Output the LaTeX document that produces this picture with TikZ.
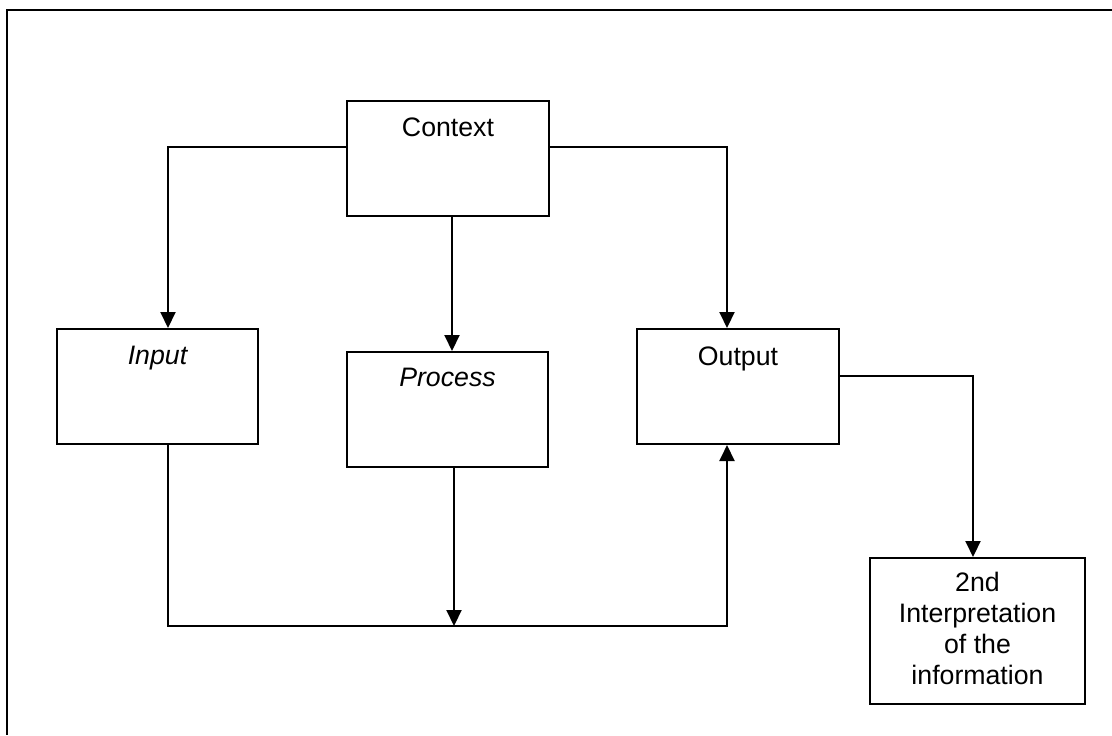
\documentclass[tikz,border=0pt]{standalone}
\usepackage{fontspec}
\setmainfont{Liberation Sans}
\usetikzlibrary{positioning, calc, arrows.meta}

\begin{document}
\begin{tikzpicture}[
    x=0.5pt, y=-0.5pt,
    box/.style={rectangle, draw=black, line width=1pt, inner sep=0pt},
    boxtext/.style={inner sep=0pt, align=center, font=\fontsize{13.35}{15.5}\selectfont},
    arrow/.style={-{Triangle[length=8pt, width=7.5pt]}, line width=1pt}
]
    \useasboundingbox (0,0) rectangle (1112,735);

    % Page frame
    \draw[line width=1pt] (1112,10) -- (7,10) -- (7,735);

    % Boxes
    \node[box, minimum width=101pt, minimum height=57.5pt] (context) at (448,158.5) {};
    \node[boxtext, below=8.5pt of context.north] {Context};

    \node[box, minimum width=100.5pt, minimum height=57.5pt] (input) at (157.5,386.5) {};
    \node[boxtext, below=9pt of input.north] {\itshape Input};

    \node[box, minimum width=100.5pt, minimum height=57.5pt] (process) at (447.5,409.5) {};
    \node[boxtext, below=8.5pt of process.north] {\itshape Process};

    \node[box, minimum width=101pt, minimum height=57.5pt] (output) at (738,386.5) {};
    \node[boxtext, below=9pt of output.north] {Output};

    \node[box, minimum width=107.5pt, minimum height=73pt] (interp) at (977.5,631) {};
    \node[boxtext, below=7.5pt of interp.north] {2nd\\Interpretation\\of the\\information};

    % Context to the three boxes
    \draw[arrow] ($(context.west)+(0,-11.5)$) -| ($(input.north)+(10.5,0)$);
    \draw[arrow] ($(context.east)+(0,-11.5)$) -| ($(output.north)+(-11,0)$);
    \draw[arrow] ($(context.south)+(4,0)$) -- ($(process.north)+(4.5,0)$);

    % Bottom loop into output
    \coordinate (merge) at (454,626);
    \draw[arrow] ($(input.south)+(10.5,0)$) |- (merge) -| ($(output.south)+(-11,0)$);
    \draw[arrow] ($(process.south)+(6.5,0)$) -- (merge);

    % Output to interpretation
    \draw[arrow] ($(output.east)+(0,-10.5)$) -| ($(interp.north)+(-4.5,0)$);

\end{tikzpicture}
\end{document}
